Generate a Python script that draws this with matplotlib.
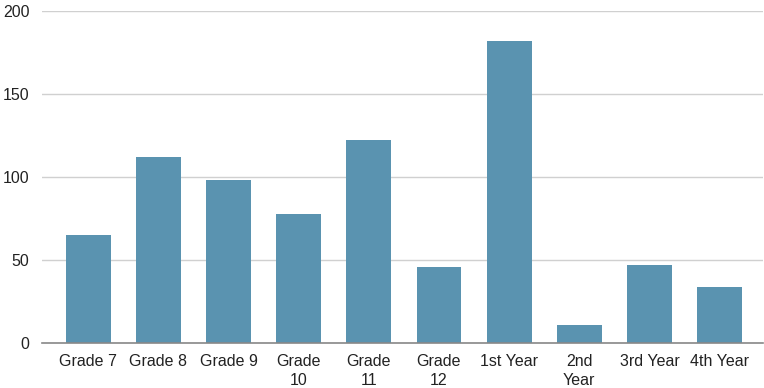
import matplotlib
matplotlib.use("Agg")
import matplotlib.pyplot as plt

# categories and counts
labels = ["Grade 7", "Grade 8", "Grade 9", "Grade\n10", "Grade\n11",
          "Grade\n12", "1st Year", "2nd\nYear", "3rd Year", "4th Year"]
counts = [65, 112, 98, 78, 122, 46, 182, 11, 47, 34]
yticks = [0, 50, 100, 150, 200]

plt.rcParams['font.family'] = ['Liberation Sans', 'DejaVu Sans']

fig = plt.figure(figsize=(7.64, 3.88), dpi=100)
ax = fig.add_axes([42/764, 1 - 343/388, 721/764, 332/388])

x = range(len(labels))
ax.bar(x, counts, width=0.64, color='#5a93b0', zorder=3)

ax.set_ylim(0, 200)
ax.set_xlim(-0.66, 9.62)
ax.set_yticks(yticks)
ax.set_xticks(list(x))
ax.set_xticklabels(labels, fontsize=11.5, color='#222222', linespacing=1.3)
ax.tick_params(axis='y', labelsize=11.5, labelcolor='#222222', length=0, pad=9)
ax.tick_params(axis='x', length=0, pad=8)

#gridlines
ax.grid(axis='y', color='#d0d0d0', linewidth=1, zorder=0)
for s in ['top', 'right', 'left']:
    ax.spines[s].set_visible(False)
ax.spines['bottom'].set_color('#888888')
ax.spines['bottom'].set_linewidth(1.2)
ax.spines['bottom'].set_zorder(4)

plt.savefig('out.png', dpi=100)
